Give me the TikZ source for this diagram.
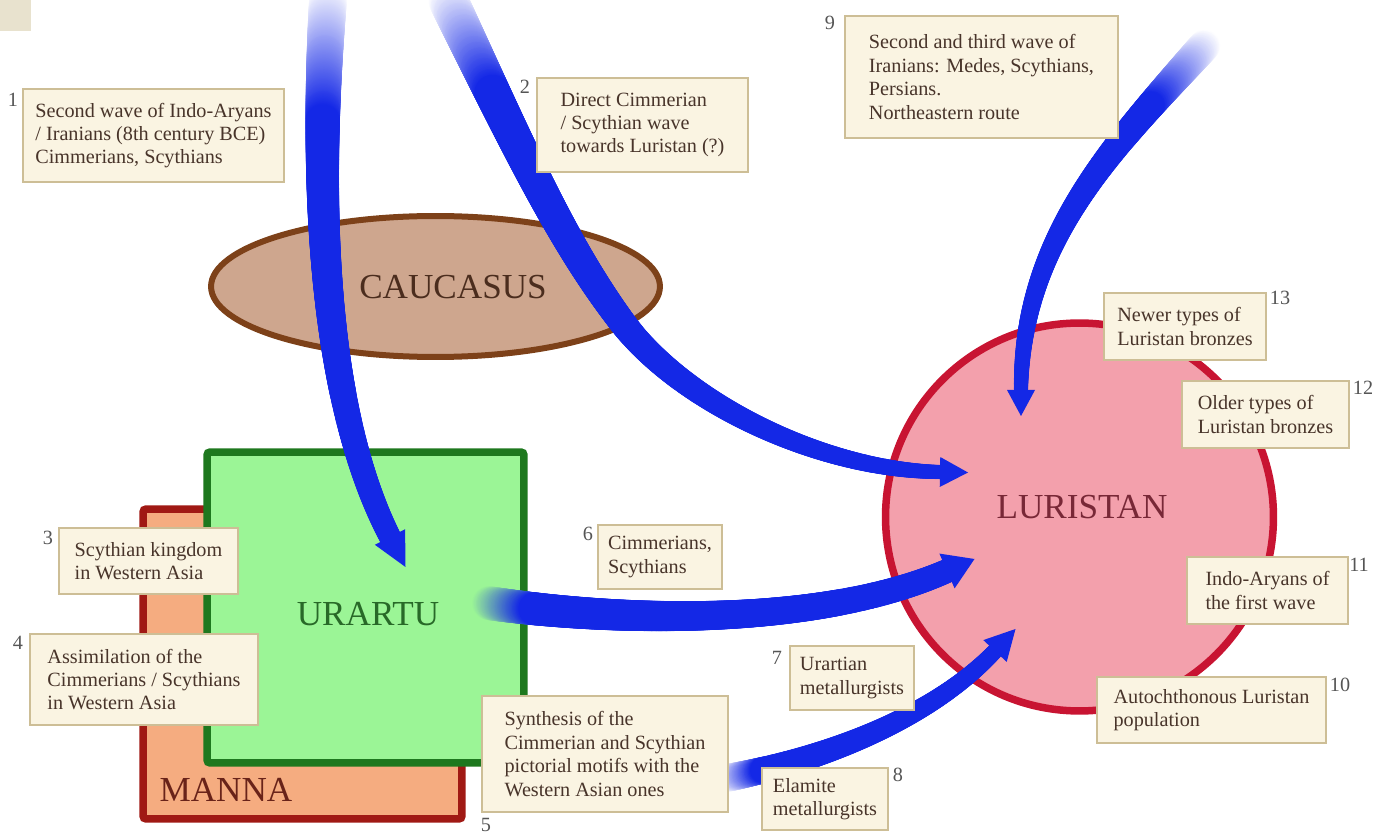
\documentclass[tikz,border=0pt]{standalone}
\usepackage{fontspec}
\setmainfont{Liberation Serif}
\usetikzlibrary{shapes.geometric,decorations.markings,calc}

\definecolor{waveblue}{RGB}{20,40,230}
\definecolor{notefill}{RGB}{250,244,226}
\definecolor{noteline}{RGB}{205,190,150}
\definecolor{notetext}{RGB}{72,52,42}
\definecolor{numtext}{RGB}{85,85,85}
\definecolor{cornerfill}{RGB}{232,226,206}
\definecolor{urartufill}{RGB}{155,245,150}
\definecolor{urartuline}{RGB}{30,120,30}
\definecolor{urartutext}{RGB}{40,105,40}
\definecolor{mannafill}{RGB}{245,172,128}
\definecolor{mannaline}{RGB}{160,25,20}
\definecolor{mannatext}{RGB}{105,35,25}
\definecolor{caucfill}{RGB}{206,166,142}
\definecolor{caucline}{RGB}{125,65,25}
\definecolor{cauctext}{RGB}{75,45,30}
\definecolor{lurfill}{RGB}{243,160,172}
\definecolor{lurline}{RGB}{200,20,50}
\definecolor{lurtext}{RGB}{120,40,55}

% tapered, faded migration shaft:
% start width, end width (px), fade part, fade colour
\tikzset{
  wave/.style n args={4}{
    decoration={markings,
      mark=between positions 0 and 1 step 0.7pt with {%
        \pgfmathsetmacro\wf{\pgfkeysvalueof{/pgf/decoration/mark info/distance from start}/\pgfdecoratedpathlength}%
        \pgfmathsetmacro\wr{0.2835*(#1+(#2-#1)*\wf)}%
        \pgfmathtruncatemacro\wk{min(100,100*\wf/#3)}%
        \fill[waveblue!\wk!#4] (0pt,0pt) circle (\wr pt);}},
    decorate},
  wavehead/.style={fill=waveblue}
}

\begin{document}
\begin{tikzpicture}[x=0.02cm,y=-0.02cm,
  note/.style={draw=noteline,fill=notefill,line width=0.04cm,text=notetext,align=left,
    inner sep=0pt,font=\fontsize{11.5}{13.3}\selectfont},
  num/.style={text=numtext,inner sep=0pt,font=\fontsize{11.5}{13.3}\selectfont},
  region/.style={inner sep=0pt,line width=0.15cm},
  big/.style={inner sep=0pt,font=\fontsize{20}{24}\selectfont}]
\useasboundingbox (0,0) rectangle (1374,834);
\fill[cornerfill] (0,0) rectangle (31,31);

% regions
\node[region,draw=mannaline,fill=mannafill,rounded corners=0.06cm,
  minimum width=6.38cm,minimum height=6.2cm] (manna) at (302.5,664) {};
\node[region,draw=urartuline,fill=urartufill,rounded corners=0.06cm,
  minimum width=6.34cm,minimum height=6.22cm] (urartu) at (365.5,607.5) {};
\node[region,ellipse,draw=caucline,fill=caucfill,line width=0.12cm,
  minimum width=8.98cm,minimum height=2.82cm] (caucasus) at (435.5,286.5) {};
\node[region,circle,draw=lurline,fill=lurfill,minimum size=7.76cm] (luristan) at (1079.5,517) {};

\node[big,text=mannatext] (mannalabel) at (226,790) {MANNA};
\node[big,text=urartutext] (urartulabel) at (368,614) {URARTU};
\node[big,text=cauctext] (caucasuslabel) at (453,287) {CAUCASUS};
\node[big,text=lurtext] (luristanlabel) at (1082,507) {LURISTAN};

% migration waves: start, head base, tip
\coordinate (w1s) at (328,0);
\coordinate (w1e) at (390,537);
\coordinate (w1t) at (405.5,567);
\coordinate (w2s) at (448,0);
\coordinate (w2m) at (622,322);
\coordinate (w2e) at (940,472);
\coordinate (w2t) at (968,472.5);
\coordinate (w9s) at (1205,45);
\coordinate (w9e) at (1021,390);
\coordinate (w9t) at (1021,416);
\coordinate (w6s) at (488,603);
\coordinate (w6e) at (947,571);
\coordinate (w6t) at (974.5,559);
\coordinate (w7s) at (727,778);
\coordinate (w7e) at (995,651);
\coordinate (w7t) at (1015.5,629);
\path[wave={38}{22}{0.22}{white}] (w1s) .. controls (312,230) and (330,420) .. (w1e);
\path[wave={40}{14}{0.14}{white}] (w2s) .. controls (520,150) and (562,242) .. (w2m)
  .. controls (682,402) and (820,470) .. (w2e);
\path[wave={32}{14}{0.2}{white}] (w9s) .. controls (1110,150) and (1022,240) .. (w9e);
\path[wave={34}{24}{0.1}{urartufill}] (w6s) .. controls (620,622) and (820,627) .. (w6e);
\path[wave={28}{16}{0.12}{white}] (w7s) .. controls (820,760) and (930,720) .. (w7e);
\fill[wavehead] ($(w1e)!0.34cm!90:(w1t)$) -- (w1t) -- ($(w1e)!0.34cm!-90:(w1t)$) -- cycle;
\fill[wavehead] ($(w2e)!0.3cm!90:(w2t)$) -- (w2t) -- ($(w2e)!0.3cm!-90:(w2t)$) -- cycle;
\fill[wavehead] ($(w9e)!0.28cm!90:(w9t)$) -- (w9t) -- ($(w9e)!0.28cm!-90:(w9t)$) -- cycle;
\fill[wavehead] ($(w6e)!0.38cm!90:(w6t)$) -- (w6t) -- ($(w6e)!0.38cm!-90:(w6t)$) -- cycle;
\fill[wavehead] ($(w7e)!0.32cm!90:(w7t)$) -- (w7t) -- ($(w7e)!0.32cm!-90:(w7t)$) -- cycle;

% notes
\node[note,minimum width=5.22cm,minimum height=1.86cm] (note1) at (153.5,135.5)
  {Second wave of Indo-Aryans\\/ Iranians (8th century BCE)\\Cimmerians, Scythians};
\node[note,minimum width=4.22cm,minimum height=1.88cm] (note2) at (642.5,125)
  {Direct Cimmerian\\/ Scythian wave\\towards Luristan (?)};
\node[note,minimum width=5.46cm,minimum height=2.44cm] (note9) at (981.5,77)
  {Second and third wave of\\Iranians: Medes, Scythians,\\Persians.\\Northeastern route};
\node[note,minimum width=3.58cm,minimum height=1.32cm] (note3) at (148.5,561)
  {Scythian kingdom\\in Western Asia};
\node[note,minimum width=4.56cm,minimum height=1.82cm] (note4) at (144,679.5)
  {Assimilation of the\\Cimmerians / Scythians\\in Western Asia};
\node[note,minimum width=4.92cm,minimum height=2.32cm] (note5) at (605,754)
  {Synthesis of the\\Cimmerian and Scythian\\pictorial motifs with the\\Western Asian ones};
\node[note,minimum width=2.48cm,minimum height=1.28cm] (note6) at (660,557)
  {Cimmerians,\\Scythians};
\node[note,minimum width=2.48cm,minimum height=1.28cm] (note7) at (852,678)
  {Urartian\\metallurgists};
\node[note,minimum width=2.52cm,minimum height=1.24cm] (note8) at (825,799)
  {Elamite\\metallurgists};
\node[note,minimum width=3.24cm,minimum height=1.34cm] (note13) at (1185,326.5)
  {Newer types of\\Luristan bronzes};
\node[note,minimum width=3.34cm,minimum height=1.34cm] (note12) at (1265.5,414.5)
  {Older types of\\Luristan bronzes};
\node[note,minimum width=3.22cm,minimum height=1.34cm] (note11) at (1267.5,590.5)
  {Indo-Aryans of\\the first wave};
\node[note,minimum width=4.58cm,minimum height=1.32cm] (note10) at (1211.5,710)
  {Autochthonous Luristan\\population};

% numbers
\node[num] (n1) at (13,100) {1};
\node[num] (n2) at (525,87) {2};
\node[num] (n3) at (48,538) {3};
\node[num] (n4) at (18,643) {4};
\node[num] (n5) at (486,825) {5};
\node[num] (n6) at (588,534) {6};
\node[num] (n7) at (777,658) {7};
\node[num] (n8) at (898,775) {8};
\node[num] (n9) at (830,23) {9};
\node[num] (n10) at (1340,685) {10};
\node[num] (n11) at (1359,565) {11};
\node[num] (n12) at (1363,388) {12};
\node[num] (n13) at (1280,298) {13};
\end{tikzpicture}
\end{document}
